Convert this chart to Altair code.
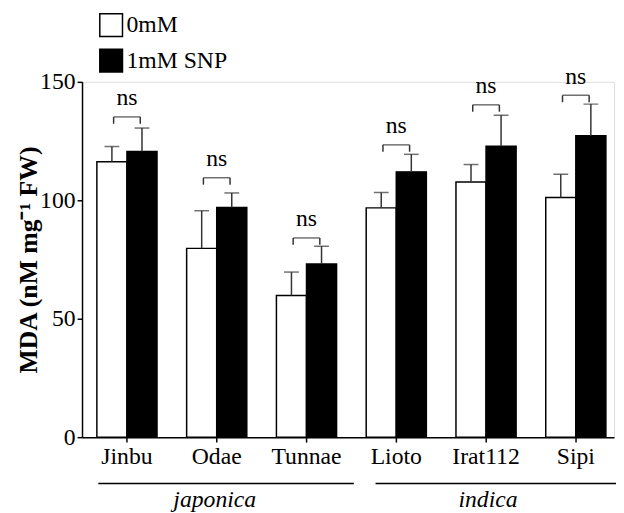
import altair as alt
import pandas as pd

cultivars = ["Jinbu", "Odae", "Tunnae", "Lioto", "Irat112", "Sipi"]
treatments = ["0mM", "1mM SNP"]
ctrl_mean = [116.3, 79.7, 59.8, 96.8, 107.7, 101.2]
ctrl_err = [6.4, 15.9, 9.9, 6.5, 7.4, 9.8]
snp_mean = [120.6, 97.0, 73.1, 112.0, 122.8, 127.2]
snp_err = [9.9, 6.1, 7.5, 7.4, 13.1, 13.4]
bracket_y = [135.2, 109.5, 84.1, 123.4, 140.3, 144.3]
sig_labels = ["ns", "ns", "ns", "ns", "ns", "ns"]
group_names = ["japonica", "indica"]
group_first = ["Jinbu", "Lioto"]
group_mid = ["Odae", "Irat112"]
group_last = ["Tunnae", "Sipi"]

FONT = "Liberation Serif"

rows = []
for i, c in enumerate(cultivars):
    rows.append({"cultivar": c, "treatment": treatments[0], "mean": ctrl_mean[i],
                 "upper": ctrl_mean[i] + ctrl_err[i]})
    rows.append({"cultivar": c, "treatment": treatments[1], "mean": snp_mean[i],
                 "upper": snp_mean[i] + snp_err[i]})
df = pd.DataFrame(rows)
br = pd.DataFrame({"cultivar": cultivars, "bracket": bracket_y, "sig": sig_labels})
grp = pd.DataFrame({"group": group_names, "first": group_first, "mid": group_mid, "last": group_last})

xscale = alt.Scale(domain=cultivars, paddingInner=0.33, paddingOuter=0.128, align=0.646)
x_enc = alt.X("cultivar:N", sort=cultivars, scale=xscale,
              axis=alt.Axis(title=None, labelAngle=0, labelFontSize=24, labelFont=FONT,
                            labelColor="black", tickSize=5, tickColor="black", tickWidth=1.5,
                            domainColor="black", domainWidth=1.5, labelPadding=3))
xoff = alt.XOffset("treatment:N", sort=treatments, scale=alt.Scale(paddingInner=0, paddingOuter=0))
yscale = alt.Scale(domain=[0, 150], nice=False)

bars = alt.Chart(df).mark_bar(stroke="black", strokeWidth=1.5).encode(
    x=x_enc,
    xOffset=xoff,
    y=alt.Y("mean:Q", scale=yscale,
            axis=alt.Axis(title="MDA (nM mg⁻¹ FW)", values=[0, 50, 100, 150], grid=False,
                          tickSize=5, tickColor="black", tickWidth=1.5, domainColor="black",
                          domainWidth=1.5, labelFontSize=24, labelFont=FONT, labelColor="black",
                          labelPadding=2, titleFont=FONT, titleFontSize=26, titleFontWeight="bold",
                          titleColor="black", titleX=-41)),
    fill=alt.Fill("treatment:N", sort=treatments,
                  scale=alt.Scale(domain=treatments, range=["white", "black"]),
                  legend=alt.Legend(title=None, orient="none", legendX=17, legendY=-70,
                                    symbolType="square", symbolSize=529,
                                    symbolStrokeColor="black", symbolStrokeWidth=1.5,
                                    labelFont=FONT, labelFontSize=24, labelColor="black",
                                    rowPadding=7, labelOffset=3)),
)

err_rule = alt.Chart(df).mark_rule(color="#333333", strokeWidth=1.5).encode(
    x=alt.X("cultivar:N", sort=cultivars), xOffset=xoff, y="mean:Q", y2="upper:Q")
err_cap = alt.Chart(df).mark_tick(color="#333333", thickness=1.5, size=15, orient="horizontal").encode(
    x=alt.X("cultivar:N", sort=cultivars), xOffset=xoff, y="upper:Q")

br_base = alt.Chart(br).transform_calculate(low="datum.bracket - 2.9")
br_top = br_base.mark_tick(color="#333333", thickness=1.5, size=27, orient="horizontal").encode(
    x=alt.X("cultivar:N", sort=cultivars), y="bracket:Q")
br_left = br_base.mark_rule(color="#333333", strokeWidth=1.5, xOffset=-13.5).encode(
    x=alt.X("cultivar:N", sort=cultivars), y="bracket:Q", y2="low:Q")
br_right = br_base.mark_rule(color="#333333", strokeWidth=1.5, xOffset=13.5).encode(
    x=alt.X("cultivar:N", sort=cultivars), y="bracket:Q", y2="low:Q")
br_text = br_base.mark_text(font=FONT, fontSize=24, color="black", dy=-12, baseline="alphabetic").encode(
    x=alt.X("cultivar:N", sort=cultivars), y="bracket:Q", text="sig:N")

jap = grp[grp.group == "japonica"]
ind = grp[grp.group == "indica"]
g1 = alt.Chart(jap).mark_rule(color="black", strokeWidth=1.5, xOffset=-29, x2Offset=48).encode(
    x=alt.X("first:N", sort=cultivars), x2="last:N", y=alt.value(407))
g2 = alt.Chart(ind).mark_rule(color="black", strokeWidth=1.5, xOffset=-21, x2Offset=48).encode(
    x=alt.X("first:N", sort=cultivars), x2="last:N", y=alt.value(407))
t1 = alt.Chart(jap).mark_text(font=FONT, fontSize=24, fontStyle="italic", color="black",
                              dx=-2, baseline="middle").encode(
    x=alt.X("mid:N", sort=cultivars), y=alt.value(424), text="group:N")
t2 = alt.Chart(ind).mark_text(font=FONT, fontSize=24, fontStyle="italic", color="black",
                              dx=2, baseline="middle").encode(
    x=alt.X("mid:N", sort=cultivars), y=alt.value(424), text="group:N")

chart = alt.layer(bars, err_rule, err_cap, br_top, br_left, br_right, br_text, g1, g2, t1, t2).properties(
    width=539, height=360,
    autosize=alt.AutoSizeParams(type="none"),
    padding={"left": 75, "top": 71.5, "right": 2, "bottom": 74}
).configure_view(stroke=None).configure(background="white")

chart.save("out.html", embed_options={"renderer": "svg", "actions": False})
